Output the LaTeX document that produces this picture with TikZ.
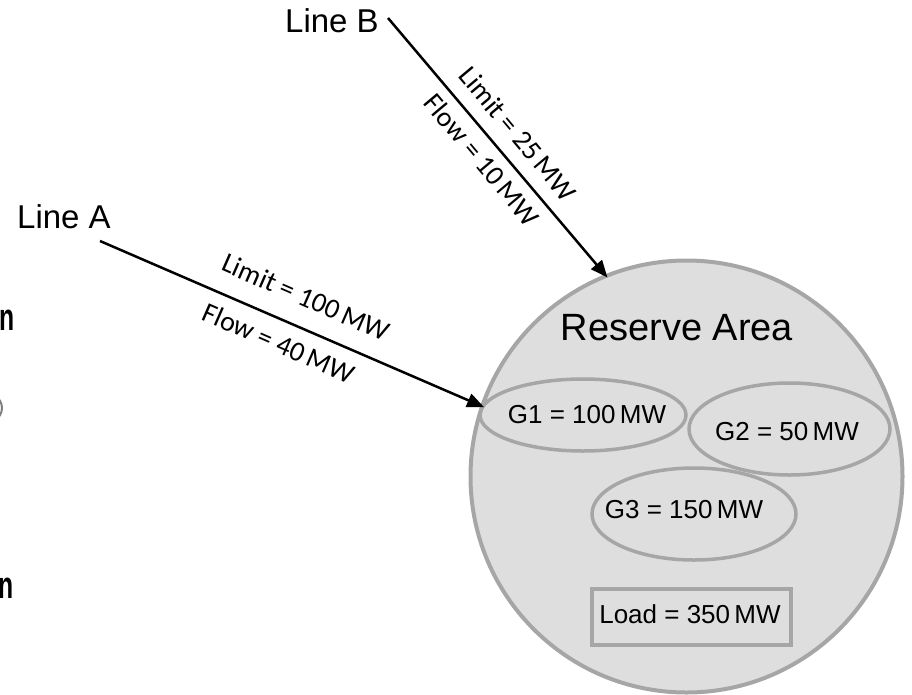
\documentclass[tikz,border=0pt]{standalone}
\usepackage{fontspec}
\setmainfont{Liberation Sans}
\newfontfamily\calib{Carlito}
\usetikzlibrary{arrows.meta,shapes.geometric}
\definecolor{areafill}{HTML}{DEDEDE}
\definecolor{areadraw}{HTML}{A6A6A6}
\definecolor{fraggrey}{HTML}{7F7F7F}
\begin{document}
\begin{tikzpicture}[x=1pt,y=-1pt,
  conn/.style={line width=2.5pt, -{Triangle[length=17pt,width=14pt]}, shorten >=-4pt},
  gen/.style={ellipse, draw=areadraw, line width=3.5pt, inner sep=0pt},
  loadbox/.style={rectangle, draw=areadraw, line width=4pt, inner sep=0pt},
  lbl/.style={font=\fontsize{26}{30}\selectfont, inner sep=0pt},
  lim/.style={font=\calib\fontsize{28}{32}\selectfont, inner sep=0pt},
  linelbl/.style={font=\fontsize{33}{38}\selectfont, inner sep=0pt},
  frag/.style={font=\bfseries\fontsize{38}{44}\selectfont, inner sep=0pt, xscale=0.65}]
\useasboundingbox (0,0) rectangle (912,694);

% clipped fragments at the left edge
\node[frag, anchor=base east] (fragn1) at (15,330) {n};
\node[frag, anchor=base east] (fragn2) at (14,598) {n};
\node[ellipse, draw=fraggrey, line width=2pt, minimum width=200pt, minimum height=72pt, inner sep=0pt] (fragel) at (-98,408) {};

% reserve area
\node[circle, draw=areadraw, fill=areafill, line width=4pt, minimum size=432pt, inner sep=0pt] (area) at (686.5,476.5) {};
\node[font=\fontsize{38}{44}\selectfont, inner sep=0pt, anchor=base] (areatitle) at (677,340) {Reserve Area};

\node[gen, minimum width=206pt, minimum height=72pt] (g1) at (583,415) {};
\node[lbl, anchor=base] (g1t) at (587,423) {G1 = 100\,MW};
\node[gen, minimum width=201pt, minimum height=92pt] (g2) at (789.5,429) {};
\node[lbl, anchor=base] (g2t) at (787,440) {G2 = 50\,MW};
\node[gen, minimum width=204pt, minimum height=92pt] (g3) at (694,514) {};
\node[lbl, anchor=base] (g3t) at (684,518) {G3 = 150\,MW};
\node[loadbox, minimum width=199pt, minimum height=56pt] (load) at (691.5,617) {};
\node[lbl, anchor=base] (loadt) at (690,623) {Load = 350\,MW};

% lines
\node[linelbl, anchor=base west] (lineA) at (17,228) {Line A};
\node[linelbl, anchor=base west] (lineB) at (285,32) {Line B};
\coordinate (a0) at (100,241);
\coordinate (b0) at (388,18);
\draw[conn] (a0) -- (area.161);
\draw[conn] (b0) -- (area.112.5);

\node[lim, rotate=-23.6] (limA) at (306,297) {Limit = 100\,MW};
\node[lim, rotate=-23.6] (flowA) at (279,343) {Flow = 40\,MW};
\node[lim, rotate=-50] (limB) at (518,134) {Limit = 25\,MW};
\node[lim, rotate=-50] (flowB) at (482,160) {Flow = 10\,MW};
\end{tikzpicture}
\end{document}
